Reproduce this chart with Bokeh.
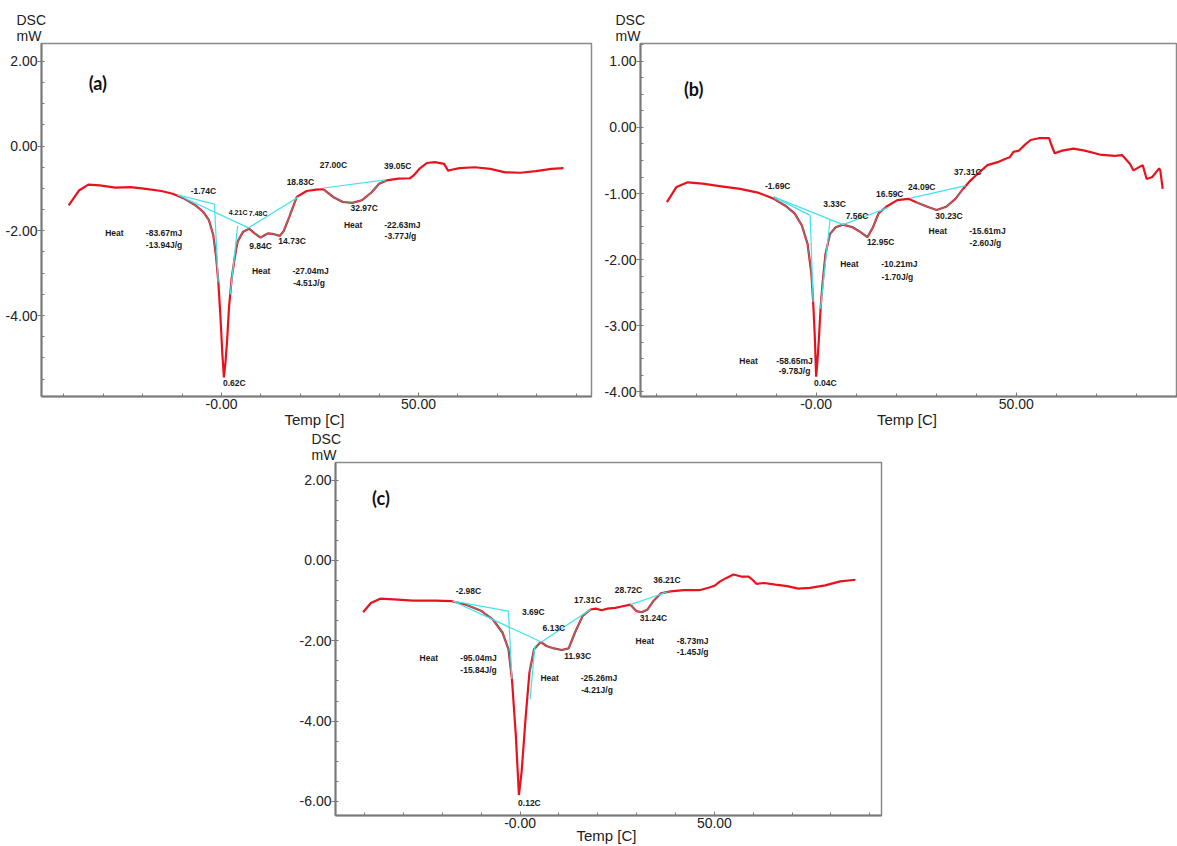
from bokeh.plotting import figure
from bokeh.layouts import column, row
from bokeh.models import FixedTicker, Spacer, Range1d
from bokeh.core.properties import value
from bokeh.embed import file_html
from bokeh.resources import INLINE
import numpy as np

# ---------------- panel (a) ----------------
a_temp = [-38.8, -36.2, -33.8, -30.9, -27.0, -23.1, -19.2, -15.3, -12.4, -9.5, -6.6, -4.7, -3.2, -2.1, -1.4,
          -0.8, -0.3, 0.2, 0.6, 1.0, 1.4, 1.9, 2.6, 3.4, 4.1, 5.5, 7.0, 8.4, 9.9, 11.0, 11.8, 13.3, 14.8, 15.8,
          17.2, 19.1, 21.6, 24.0, 25.9, 28.3, 30.8, 33.2, 35.6, 38.1, 40.0, 41.9, 44.9, 47.8, 48.7, 50.2, 52.1,
          54.1, 56.5, 57.5, 58.4, 60.4, 64.3, 68.2, 72.0, 75.9, 79.8, 83.7, 86.8]
a_dsc = [-1.40, -1.05, -0.91, -0.93, -0.98, -0.97, -1.01, -1.06, -1.125, -1.24, -1.40, -1.55, -1.75, -2.10, -2.60,
         -3.23, -4.0, -4.9, -5.46, -5.1, -4.6, -3.8, -3.1, -2.6, -2.25, -2.02, -1.95, -2.06, -2.16, -2.10, -2.06, -2.08, -2.12, -2.0,
         -1.67, -1.20, -1.06, -1.03, -1.02, -1.20, -1.32, -1.34, -1.28, -1.09, -0.89, -0.81, -0.77, -0.76, -0.70, -0.54, -0.40,
         -0.38, -0.42, -0.58, -0.56, -0.52, -0.50, -0.54, -0.62, -0.63, -0.59, -0.54, -0.52]
a_gray = [(-11.2, -0.8), (2.2, 19.5), (25.9, 41.9)]
a_base_x0 = [-11.2, -1.8, -11.2, 4.1, 6.85, 25.9]
a_base_y0 = [-1.15, -1.37, -1.15, -1.88, -1.93, -0.99]
a_base_x1 = [-1.8, -0.85, 6.85, 2.2, 19.5, 41.6]
a_base_y1 = [-1.37, -3.2, -1.93, -3.5, -1.2, -0.80]
a_lbl_text = ["-1.74C", "9.84C", "14.73C", "18.83C", "27.00C", "39.05C", "32.97C", "Heat", "-83.67mJ",
              "-13.94J/g", "0.62C", "Heat", "-27.04mJ", "-4.51J/g", "Heat", "-22.63mJ", "-3.77J/g"]
a_lbl_x = [-4.6, 9.9, 17.9, 20.0, 28.4, 44.7, 36.2, -27.2, -14.6, -14.6, 3.25, 10.05, 22.6, 22.2, 33.4, 45.9, 45.4]
a_lbl_y = [-1.06, -2.35, -2.25, -0.86, -0.45, -0.46, -1.47, -2.05, -2.05, -2.33, -5.58, -2.94, -2.94, -3.22,
           -1.86, -1.86, -2.13]
a_small_text = ["4.21C", "7.48C"]
a_small_x = [4.2, 9.3]
a_small_y = [-1.57, -1.58]
a_yticks = [-4.0, -2.0, 0.0, 2.0]

# ---------------- panel (b) ----------------
b_temp = [-37.3, -34.9, -32.1, -28.4, -23.7, -19.0, -14.3, -10.6, -7.8, -5.4, -3.6, -2.15, -1.2, -0.75, -0.37,
          0.0, 0.3, 0.66, 1.1, 1.6, 2.34, 3.46, 4.9, 6.7, 9.1, 11.0, 12.8, 14.2, 15.6, 17.5, 20.3, 23.1, 25.0,
          27.8, 30.1, 32.5, 34.8, 36.7, 38.6, 40.4, 42.8, 45.6, 47.5, 48.4, 49.3, 50.7, 52.2, 53.6, 55.9, 58.2,
          58.7, 59.6, 61.5, 64.3, 67.1, 70.9, 74.6, 76.5, 78.4, 79.3, 80.7, 81.6, 82.6, 84.0, 85.7, 86.0, 86.6]
b_dsc = [-1.13, -0.90, -0.83, -0.85, -0.89, -0.93, -0.99, -1.08, -1.18, -1.30, -1.48, -1.76, -2.21, -2.64, -3.12,
         -3.77, -3.55, -3.22, -2.74, -2.36, -1.91, -1.61, -1.51, -1.47, -1.51, -1.58, -1.66, -1.51, -1.30, -1.20,
         -1.10, -1.08, -1.13, -1.20, -1.25, -1.20, -1.08, -0.93, -0.80, -0.70, -0.57, -0.52, -0.47, -0.45, -0.37,
         -0.35, -0.26, -0.19, -0.16, -0.16, -0.25, -0.39, -0.35, -0.32, -0.35, -0.41, -0.43, -0.42, -0.55, -0.65,
         -0.60, -0.57, -0.78, -0.75, -0.62, -0.65, -0.93]
b_gray = [(-10.6, -0.75), (1.1, 18.1), (23.6, 37.4)]
b_base_x0 = [-10.6, -1.5, -10.6, 3.46, 6.7, 23.6]
b_base_y0 = [-1.05, -1.33, -1.05, -1.40, -1.47, -1.07]
b_base_x1 = [-1.5, -0.75, 6.7, 1.1, 18.1, 37.4]
b_base_y1 = [-1.33, -2.64, -1.47, -2.74, -1.21, -0.88]
b_lbl_text = ["-1.69C", "3.33C", "7.56C", "16.59C", "24.09C", "37.31C", "12.95C", "30.23C", "Heat", "-15.61mJ",
              "-2.60J/g", "Heat", "-10.21mJ", "-1.70J/g", "Heat", "-58.65mJ", "-9.78J/g", "0.04C"]
b_lbl_x = [-9.6, 4.6, 10.2, 18.4, 26.4, 37.9, 16.1, 33.2, 30.4, 42.8, 42.3, 8.3, 20.8, 20.3, -16.9, -5.4, -5.4, 2.3]
b_lbl_y = [-0.88, -1.16, -1.34, -1.00, -0.90, -0.68, -1.74, -1.34, -1.57, -1.57, -1.75, -2.07, -2.07, -2.26,
           -3.53, -3.53, -3.69, -3.86]
b_yticks = [-4.0, -3.0, -2.0, -1.0, 0.0, 1.0]

# ---------------- panel (c) ----------------
c_temp = [-40.4, -38.4, -36.0, -32.5, -27.6, -21.7, -17.8, -13.9, -9.9, -7.0, -4.5, -3.0, -2.1, -1.1, -0.3, 0.4,
          1.4, 2.4, 3.6, 5.3, 6.8, 8.7, 10.7, 12.5, 14.1, 16.1, 18.1, 19.5, 21.0, 22.5, 24.5, 26.4, 28.4, 29.9,
          31.3, 32.8, 34.3, 36.2, 38.7, 42.1, 46.1, 48.5, 50.0, 51.5, 53.0, 54.9, 56.9, 58.8, 59.8, 60.8, 62.8,
          65.7, 68.7, 71.6, 74.6, 78.5, 82.4, 86.3]
c_dsc = [-1.29, -1.06, -0.95, -0.97, -1.00, -1.00, -1.01, -1.10, -1.26, -1.47, -1.80, -2.21, -2.95, -4.35, -5.84,
         -5.26, -3.94, -2.79, -2.21, -2.03, -2.13, -2.19, -2.23, -2.19, -1.80, -1.38, -1.22, -1.20, -1.24, -1.20,
         -1.18, -1.14, -1.10, -1.26, -1.29, -1.22, -1.01, -0.82, -0.77, -0.74, -0.74, -0.68, -0.63, -0.52, -0.44,
         -0.35, -0.40, -0.40, -0.48, -0.58, -0.56, -0.60, -0.64, -0.70, -0.68, -0.62, -0.52, -0.48]
c_gray = [(-17.3, -2.1), (2.4, 18.1), (28.4, 38.7)]
c_base_x0 = [-17.3, -3.0, -17.3, 3.8, 5.5, 28.4]
c_base_y0 = [-1.01, -1.26, -1.01, -2.13, -2.03, -1.10]
c_base_x1 = [-3.0, -2.1, 5.5, 2.6, 18.1, 37.7]
c_base_y1 = [-1.26, -2.95, -2.03, -3.45, -1.22, -0.79]
c_lbl_text = ["-2.98C", "3.69C", "6.13C", "17.31C", "28.72C", "36.21C", "31.24C", "11.93C", "Heat", "-95.04mJ",
              "-15.84J/g", "Heat", "-25.26mJ", "-4.21J/g", "Heat", "-8.73mJ", "-1.45J/g", "0.12C"]
c_lbl_x = [-13.3, 3.4, 8.7, 17.4, 27.9, 37.8, 34.3, 14.8, -23.5, -10.7, -10.7, 7.6, 20.3, 19.8, 32.1, 44.4, 44.4, 2.4]
c_lbl_y = [-0.77, -1.28, -1.67, -0.99, -0.74, -0.48, -1.43, -2.39, -2.43, -2.43, -2.72, -2.93, -2.93, -3.22,
           -2.01, -2.01, -2.29, -6.03]
c_yticks = [-6.0, -4.0, -2.0, 0.0, 2.0]

x_major = [0, 50]
x_major_text = ["-0.00", "50.00"]
x_minor = [-40, -30, -20, -10, 10, 20, 30, 40, 60, 70, 80, 90]

RED = "#e8121c"
CYAN = "#3fe3ee"
FONT = "Liberation Sans"


def panel(tag, tag_xy, temp, dsc, gray, bx0, by0, bx1, by1, lt, lx, ly, yticks, yminor_step,
          xr, yr, width, height, borders, title_offset, xlabel_standoff):
    p = figure(width=width, height=height, x_range=Range1d(*xr), y_range=Range1d(*yr),
               output_backend="svg", toolbar_location=None)
    p.min_border_left, p.min_border_right, p.min_border_top, p.min_border_bottom = borders
    p.grid.visible = False
    p.outline_line_color = "#8a8a8a"
    p.outline_line_width = 1.5
    p.background_fill_color = "white"
    p.border_fill_color = "white"

    # title "DSC / mW"
    p.title.text = "DSC\nmW"
    p.title.align = "left"
    p.title.offset = title_offset
    p.title.text_font = FONT
    p.title.text_font_size = "14px"
    p.title.text_font_style = "normal"
    p.title.text_color = "#222222"
    p.title.standoff = 0
    p.title.text_line_height = 1.0

    t = np.array(temp)
    d = np.array(dsc)
    p.line(t, d, line_color=RED, line_width=2.2)
    for lo, hi in gray:
        m = (t >= lo) & (t <= hi)
        p.line(t[m], d[m], line_color="#7d7d7d", line_width=1.2, line_alpha=0.9)
    p.segment(bx0, by0, bx1, by1, line_color=CYAN, line_width=1.2)

    p.text(x=lx, y=ly, text=lt, text_font=value(FONT), text_font_size="8.5px", text_font_style="bold",
           text_align="center", text_baseline="middle", text_color="#1a1a1a")
    p.text(x=[tag_xy[0]], y=[tag_xy[1]], text=[tag], text_font=value("Lato"), text_font_size="18px",
           text_font_style="bold", text_align="center", text_baseline="middle", text_color="#111111")

    xa = p.xaxis[0]
    xa.ticker = FixedTicker(ticks=x_major, minor_ticks=x_minor)
    xa.major_label_overrides = {k: v for k, v in zip(x_major, x_major_text)}
    xa.axis_line_color = "#7a7a7a"
    xa.axis_line_width = 2
    xa.major_tick_line_color = "#7a7a7a"
    xa.minor_tick_line_color = "#7a7a7a"
    xa.major_tick_in = 4
    xa.major_tick_out = 0
    xa.minor_tick_in = 3
    xa.minor_tick_out = 0
    xa.major_label_standoff = 2
    xa.major_label_text_font = FONT
    xa.major_label_text_font_size = "14px"
    xa.major_label_text_color = "#222222"
    xa.axis_label = "Temp  [C]"
    xa.axis_label_text_font = FONT
    xa.axis_label_text_font_size = "15px"
    xa.axis_label_text_font_style = "normal"
    xa.axis_label_text_color = "#222222"
    xa.axis_label_standoff = xlabel_standoff
    try:
        xa.major_label_background_fill_color = "white"
    except Exception:
        pass

    ya = p.yaxis[0]
    minor = [v for v in np.arange(np.ceil(yr[0] / yminor_step) * yminor_step, yr[1], yminor_step)]
    ya.ticker = FixedTicker(ticks=yticks, minor_ticks=minor)
    ya.major_label_overrides = {v: f"{v:.2f}" for v in yticks}
    ya.axis_line_color = "#7a7a7a"
    ya.axis_line_width = 2
    ya.major_tick_line_color = "#7a7a7a"
    ya.minor_tick_line_color = "#7a7a7a"
    ya.major_tick_in = 0
    ya.major_tick_out = 4
    ya.minor_tick_in = 3
    ya.minor_tick_out = 0
    ya.major_label_standoff = 0
    ya.major_label_text_font = FONT
    ya.major_label_text_font_size = "14px"
    ya.major_label_text_color = "#222222"
    return p


pa = panel("(a)", (-31.4, 1.48), a_temp, a_dsc, a_gray, a_base_x0, a_base_y0, a_base_x1, a_base_y1,
           a_lbl_text, a_lbl_x, a_lbl_y, a_yticks, 0.5, (-45.7, 93.9), (-5.91, 2.42), 595, 430,
           (41, 4, 42, 33), -25, -1)
pa.text(x=a_small_x, y=a_small_y, text=a_small_text, text_font=value(FONT), text_font_size="7px",
        text_font_style="bold", text_align="center", text_baseline="middle", text_color="#1a1a1a")

pb = panel("(b)", (-30.6, 0.58), b_temp, b_dsc, b_gray, b_base_x0, b_base_y0, b_base_x1, b_base_y1,
           b_lbl_text, b_lbl_x, b_lbl_y, b_yticks, 0.25, (-43.9, 90.3), (-4.07, 1.27), 582, 430,
           (45, 0, 43, 34), -25, -1)

pc = panel("(c)", (-35.8, 1.56), c_temp, c_dsc, c_gray, c_base_x0, c_base_y0, c_base_x1, c_base_y1,
           c_lbl_text, c_lbl_x, c_lbl_y, c_yticks, 0.5, (-47.5, 93.0), (-6.35, 2.44), 595, 420,
           (45, 4, 36, 29), -24, -4)
pc.border_fill_alpha = 0
pc.margin = (-4, 0, 0, 0)

layout = column(row(pa, pb), row(Spacer(width=290, height=416), pc))
open("out.html", "w").write(file_html(layout, INLINE))
